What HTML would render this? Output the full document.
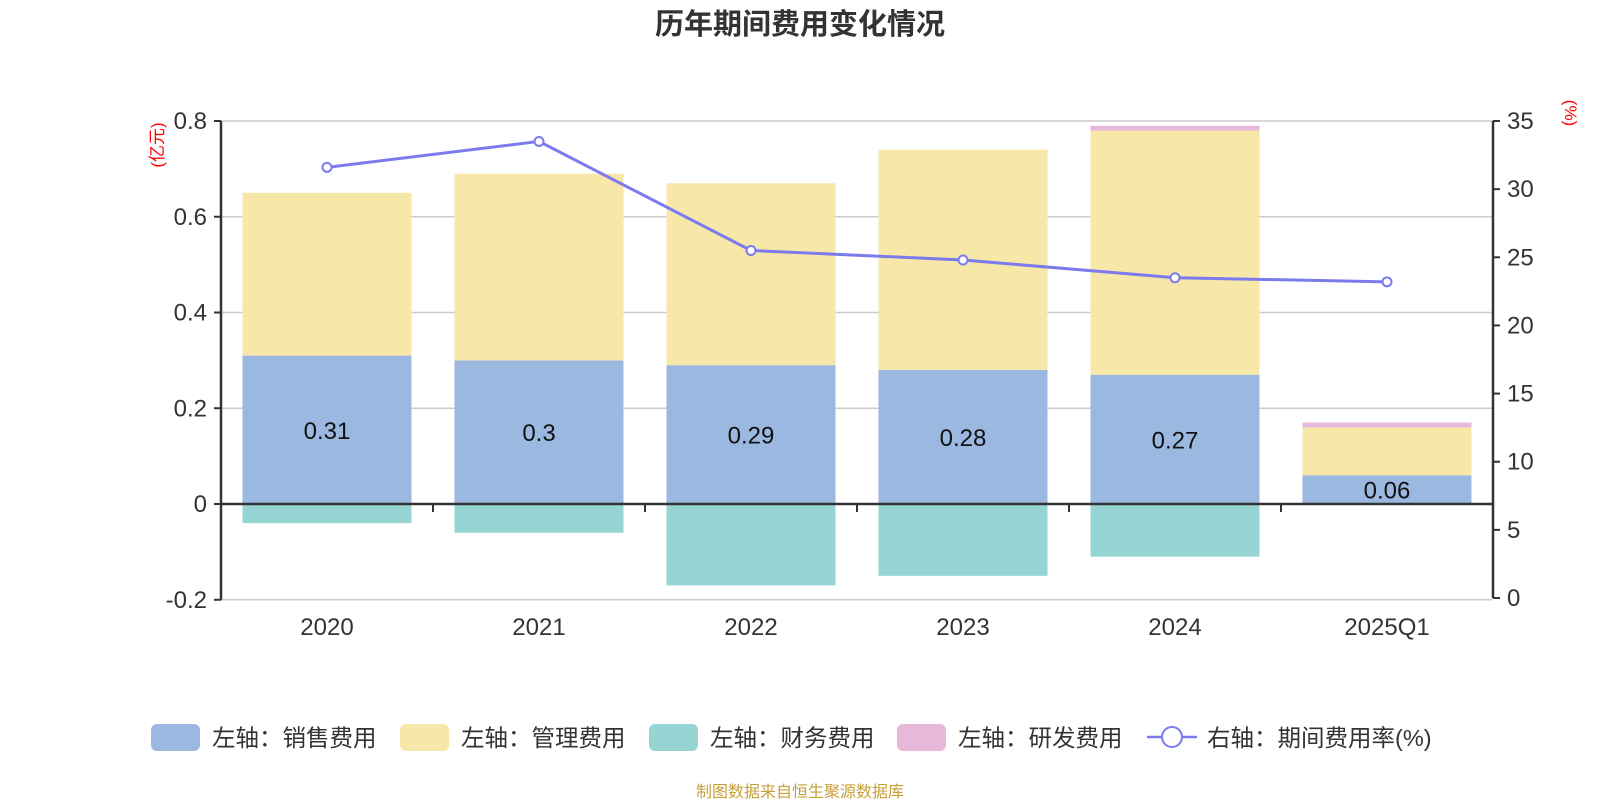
<!DOCTYPE html>
<html><head><meta charset="utf-8"><style>
body{margin:0;background:#fff;}
svg text{font-family:"Liberation Sans","Noto Sans CJK SC",sans-serif;}
</style></head><body>
<svg id="c" width="1600" height="800" xmlns="http://www.w3.org/2000/svg">
<text x="800" y="34" text-anchor="middle" font-size="29" font-weight="bold" fill="#333">历年期间费用变化情况</text>
<text transform="translate(163,145) rotate(-90)" text-anchor="middle" font-size="17" fill="#f00">(亿元)</text>
<text transform="translate(1565,113) rotate(90)" text-anchor="middle" font-size="17" fill="#f00">(%)</text>
<g id="plot"></g>
<text x="800" y="797" text-anchor="middle" font-size="16" fill="#c8a03a">制图数据来自恒生聚源数据库</text>
</svg>
<script>
const categories=["2020","2021","2022","2023","2024","2025Q1"];
const sales=[0.31,0.30,0.29,0.28,0.27,0.06];
const mgmt=[0.34,0.39,0.38,0.46,0.51,0.10];
const finance=[-0.04,-0.06,-0.17,-0.15,-0.11,0];
const rnd=[0,0,0,0,0.01,0.01];
const rate=[31.6,33.5,25.5,24.8,23.5,23.2];
const leftTicks=[-0.2,0,0.2,0.4,0.6,0.8];
const rightTicks=[0,5,10,15,20,25,30,35];

const NS="http://www.w3.org/2000/svg";
const g=document.getElementById('plot');
const X0=221,X1=1493,catW=(X1-X0)/categories.length,barW=169;
const yL=v=>504-v*(504-121)/0.8;
const yR=v=>598-v*(598-121)/35;
const cx=i=>X0+catW*(i+0.5);
function mk(t,a,p){const e=document.createElementNS(NS,t);for(const k in a)e.setAttribute(k,a[k]);(p||g).appendChild(e);return e;}
leftTicks.forEach(v=>{
  const y=yL(v);
  const l=mk('line',{x1:X0,x2:X1,y1:y,y2:y,stroke:'#ccc','stroke-width':1.5});
  
  
  mk('line',{x1:X0-7,x2:X0,y1:y,y2:y,stroke:'#333','stroke-width':2});
  const t=mk('text',{x:X0-14,y:y+8,'text-anchor':'end','font-size':24,fill:'#333'});t.textContent=(v===0?'0':String(v));
  
  
});
rightTicks.forEach(v=>{
  const y=yR(v);
  mk('line',{x1:X1,x2:X1+7,y1:y,y2:y,stroke:'#333','stroke-width':2});
  const t=mk('text',{x:X1+14,y:y+8,'font-size':24,fill:'#333'});t.textContent=v;
  
  
});
function bar(i,a,b,col,name){
  const y1=yL(Math.max(a,b)),y2=yL(Math.min(a,b));
  if(y2-y1<=0)return;
  const r=mk('rect',{x:cx(i)-barW/2,y:y1,width:barW,height:y2-y1,fill:col});
  
  
}
categories.forEach((c,i)=>{
  bar(i,0,sales[i],'#9bb8e1','bar-sales-'+c);
  bar(i,sales[i],sales[i]+mgmt[i],'#f7e7a9','bar-mgmt-'+c);
  bar(i,sales[i]+mgmt[i],sales[i]+mgmt[i]+rnd[i],'#e6b8d9','bar-rnd-'+c);
  bar(i,0,finance[i],'#97d4d4','bar-finance-'+c);
  const t=mk('text',{x:cx(i),y:yL(sales[i]/2)+9,'text-anchor':'middle','font-size':24,fill:'#111'});t.textContent=sales[i];
  
  
  const xl=mk('text',{x:cx(i),y:635,'text-anchor':'middle','font-size':24,fill:'#333'});xl.textContent=c;
  
  
});
mk('line',{x1:X0,x2:X0,y1:yL(0.8),y2:yL(-0.2),stroke:'#333','stroke-width':2.5});
mk('line',{x1:X1,x2:X1,y1:yR(35),y2:yR(0),stroke:'#333','stroke-width':2.5});
mk('line',{x1:X0,x2:X1,y1:yL(0),y2:yL(0),stroke:'#333','stroke-width':2.5});
for(let i=0;i<=categories.length;i++){const x=X0+catW*i;mk('line',{x1:x,x2:x,y1:yL(0),y2:yL(0)+8,stroke:'#333','stroke-width':2});}
const pl=mk('polyline',{points:rate.map((v,i)=>cx(i)+','+yR(v)).join(' '),fill:'none',stroke:'#7b7bee','stroke-width':3});


rate.forEach((v,i)=>{const c=mk('circle',{cx:cx(i),cy:yR(v),r:4.5,fill:'#fff',stroke:'#7b7bee','stroke-width':2});
  
  });
const leg=[['#9bb8e1',151,'左轴：销售费用'],['#f7e7a9',400,'左轴：管理费用'],['#97d4d4',649,'左轴：财务费用'],['#e6b8d9',897,'左轴：研发费用']];
leg.forEach(l=>{
  const r=mk('rect',{x:l[1],y:724,width:49,height:27,rx:6,fill:l[0]});
  
  
  const t=mk('text',{x:l[1]+61,y:746,'font-size':23.5,fill:'#333'});t.textContent=l[2];
  
  
});
mk('line',{x1:1147,x2:1197,y1:737,y2:737,stroke:'#7b7bee','stroke-width':2.5});
const lc=mk('circle',{cx:1172,cy:737,r:10,fill:'#fff',stroke:'#7b7bee','stroke-width':2});


const lt=mk('text',{x:1207,y:746,'font-size':23.5,fill:'#333'});lt.textContent='右轴：期间费用率(%)';


</script>
</body></html>
